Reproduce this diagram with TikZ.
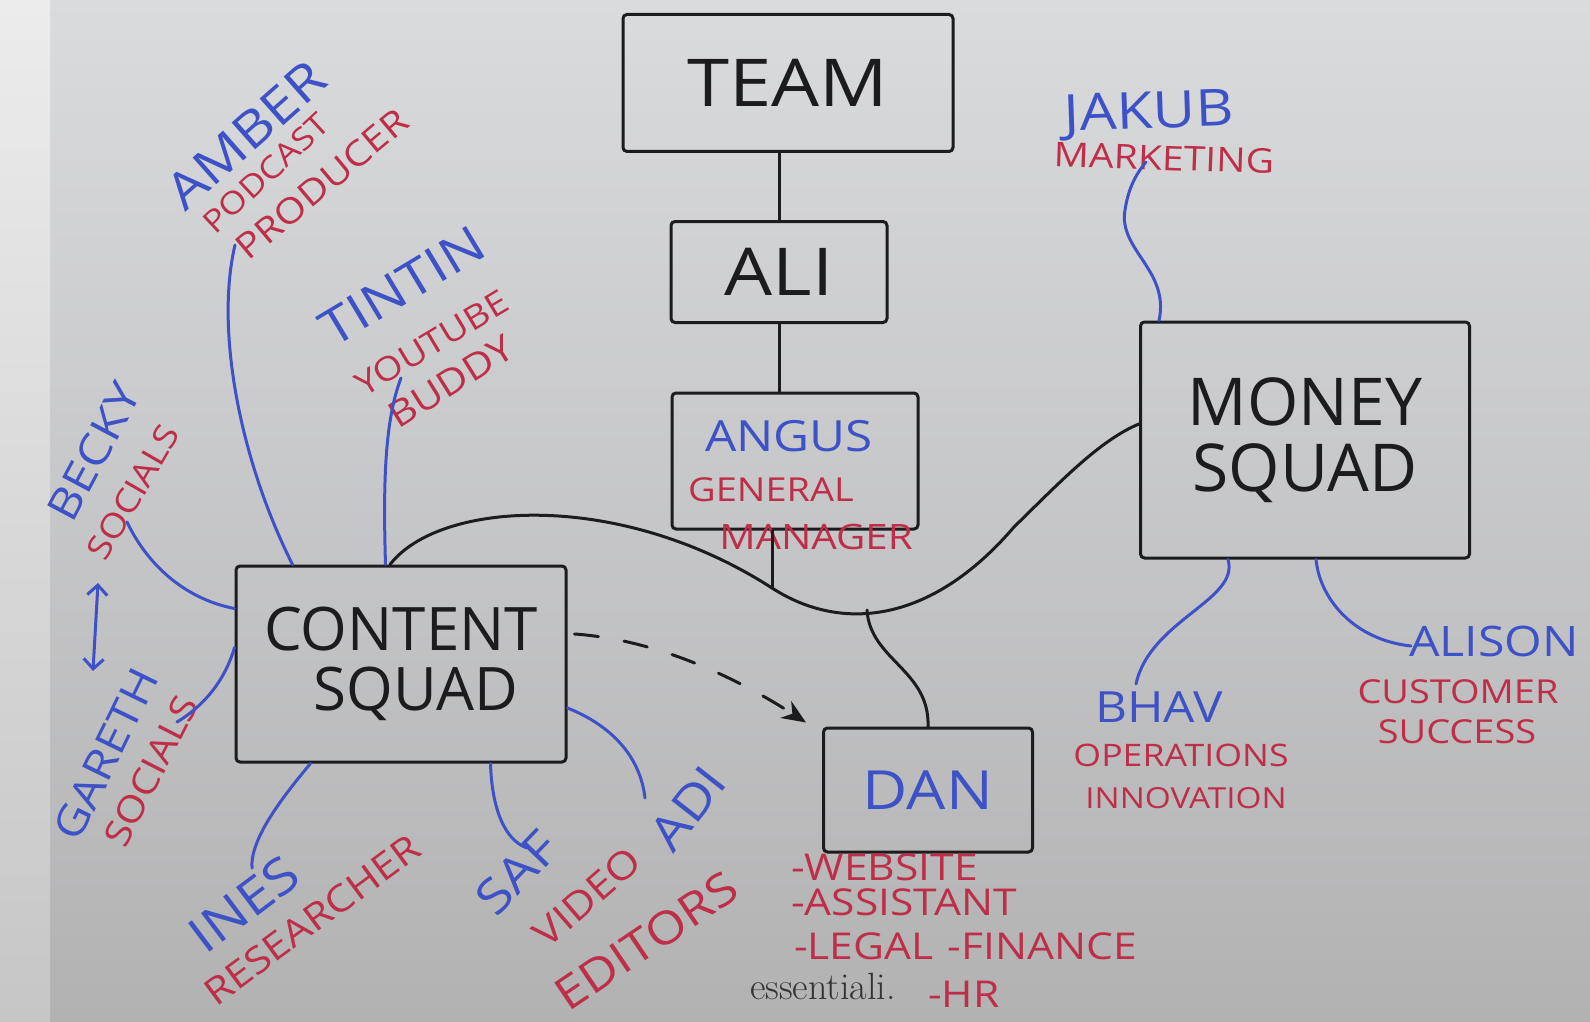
\documentclass[tikz,border=0pt]{standalone}
\usepackage{fontspec}
\newfontfamily\hand{Open Sans}[FakeStretch=1.15]
\newfontfamily\boxfont{Open Sans}
\usetikzlibrary{arrows.meta}

\definecolor{ink}{HTML}{1C1C1E}
\definecolor{penblue}{HTML}{3D52C6}
\definecolor{penred}{HTML}{BF2E48}
\definecolor{boardtop}{HTML}{DADBDD}
\definecolor{boardbot}{HTML}{B2B2B3}
\definecolor{edgetop}{HTML}{ECECEC}
\definecolor{edgebot}{HTML}{C6C6C6}
\definecolor{mark}{HTML}{333333}

\tikzset{
  box/.style={draw=ink, line width=3pt, rounded corners=4pt, inner sep=0pt,
    text=ink, align=center, font=\boxfont\fontsize{#1}{#1}\selectfont},
  who/.style={text=penblue, inner sep=0pt, font=\hand\fontsize{#1}{#1}\selectfont},
  role/.style={text=penred, inner sep=0pt, font=\hand\fontsize{#1}{#1}\selectfont},
  link/.style={draw=penblue, line width=3pt, line cap=round},
  wire/.style={draw=ink, line width=3pt, line cap=round},
}

\begin{document}
\begin{tikzpicture}[x=1pt, y=-1pt]
\useasboundingbox (0,0) rectangle (1590,1022);
% whiteboard
\shade[top color=boardtop, bottom color=boardbot] (0,0) rectangle (1590,1022);
\shade[top color=edgetop, bottom color=edgebot] (0,0) rectangle (50,1022);

% boxes
\node[box=66, minimum width=330pt, minimum height=137pt, font=\hand\fontsize{66}{66}\selectfont] (team) at (788,83) {TEAM};
\node[box=66, minimum width=216pt, minimum height=101pt, font=\hand\fontsize{66}{66}\selectfont] (ali) at (779,272) {ALI};
\node[box=48, minimum width=246pt, minimum height=136pt] (angus) at (795,461) {};
\node[box=60, minimum width=330pt, minimum height=196pt] (content) at (401,664)
  {\fontsize{60}{73}\selectfont CONTENT\\\hspace*{30pt}SQUAD};
\node[box=66, minimum width=329pt, minimum height=236pt] (money) at (1305,440)
  {\fontsize{66}{86}\selectfont MONEY\\SQUAD};
\node[box=54, minimum width=209pt, minimum height=124pt, text=penblue, font=\hand\fontsize{54}{54}\selectfont] (dan) at (928,790) {DAN};

% general manager
\node[who=43] (angusname) at (789,436) {ANGUS};
\node[role=33] (general) at (771,490) {GENERAL};
\node[role=35] (manager) at (816,537) {MANAGER};

% content squad people
\node[who=50, rotate=41.5] (amber) at (246,135) {AMBER};
\node[role=31, rotate=43] (podcast) at (266,173) {PODCAST};
\node[role=35, rotate=40] (producer) at (322,184) {PRODUCER};
\node[who=50, rotate=31] (tintin) at (402,286) {TINTIN};
\node[role=33, rotate=31] (youtube) at (432,343) {YOUTUBE};
\node[role=36, rotate=32] (buddy) at (451,382) {BUDDY};
\node[who=43, rotate=62] (becky) at (94,452) {BECKY};
\node[role=33, rotate=60] (beckyrole) at (133,492) {SOCIALS};
\node[who=42, rotate=64] (gareth) at (106,754) {GARETH};
\node[role=36, rotate=63] (garethrole) at (151,771) {SOCIALS};
\node[who=50, rotate=37] (ines) at (244,904) {INES};
\node[role=37, rotate=36.5] (inesrole) at (312,920) {RESEARCHER};
\node[who=48, rotate=46] (saf) at (517,873) {SAF};
\node[role=38, rotate=41] (video) at (587,897) {VIDEO};
\node[who=48, rotate=52] (adi) at (688,808) {ADI};
\node[role=45, rotate=34] (editors) at (646,941) {EDITORS};

% money squad people
\node[who=51, rotate=2] (jakub) at (1149,115) {JAKUB};
\node[role=34, rotate=-2] (jakubrole) at (1164,158) {MARKETING};
\node[who=43] (bhav) at (1159,707) {BHAV};
\node[role=31] (bhavrole) at (1181,755) {OPERATIONS};
\node[role=29] (bhavrole2) at (1186,798) {INNOVATION};
\node[who=42] (alison) at (1494,641) {ALISON};
\node[role=33] (alisonrole) at (1458,692) {CUSTOMER};
\node[role=33] (alisonrole2) at (1457,732) {SUCCESS};

% dan's jobs
\node[role=37, anchor=west] (website) at (791,867) {-WEBSITE};
\node[role=37, anchor=west] (assistant) at (791,902) {-ASSISTANT};
\node[role=37, anchor=west] (legal) at (794,946) {-LEGAL\hspace{14pt}-FINANCE};
\node[role=37, anchor=west] (hr) at (928,994) {-HR};

\node[text=mark, inner sep=0pt, font=\fontsize{38}{38}\selectfont] (logo) at (823,986) {essentiali.};

% free ends
\coordinate (join) at (772,588);
\coordinate (fork) at (867,610);
\coordinate (amberend) at (235,245);
\coordinate (tintinend) at (401,378);
\coordinate (beckyend) at (127,522);
\coordinate (garethend) at (177,722);
\coordinate (swapa) at (98,583);
\coordinate (swapb) at (93,671);
\coordinate (inesend) at (252,868);
\coordinate (safend) at (527,848);
\coordinate (adiend) at (645,798);
\coordinate (jakubend) at (1146,162);
\coordinate (bhavend) at (1136,684);
\coordinate (alisonend) at (1411,646);

% black lines
\draw[wire] (ali.north) -- (ali.north |- team.south);
\draw[wire] (ali.south) -- (ali.south |- angus.north);
\draw[wire] (join |- angus.south) -- (join);
\draw[wire] ([xshift=-11pt]content.north) .. controls (440,500) and (620,490) .. (join)
  .. controls (840,632) and (930,625) .. (1014,527)
  .. controls (1060,482) and (1100,440) .. ([yshift=16pt]money.west);
\draw[wire] (fork) .. controls (870,660) and (930,670) .. (dan.north);
\draw[wire, dash pattern=on 24pt off 26pt, -{Stealth[length=24pt,width=20pt]}]
  ([xshift=7pt,yshift=30pt]content.east) .. controls (660,640) and (740,680)
  .. ([xshift=-16pt,yshift=4pt]dan.north west);

% blue lines
\draw[link] ([xshift=58pt]content.north west) .. controls (240,460) and (215,330) .. (amberend);
\draw[link] ([xshift=151pt]content.north west) .. controls (383,480) and (385,420) .. (tintinend);
\draw[link] ([yshift=-44pt]content.north west) .. controls (190,600) and (150,570) .. (beckyend);
\draw[link] ([yshift=-83pt]content.north west) .. controls (225,680) and (205,705) .. (garethend);
\draw[link, {Straight Barb[length=10pt,width=20pt]}-{Straight Barb[length=10pt,width=20pt]}] (swapa) -- (swapb);
\draw[link] ([xshift=76pt]content.south west) .. controls (280,800) and (250,840) .. (inesend);
\draw[link] ([xshift=256pt]content.south west) .. controls (492,810) and (505,840) .. (safend);
\draw[link] ([yshift=-44pt]content.east) .. controls (610,725) and (640,755) .. (adiend);
\draw[link] ([xshift=20pt]money.north west) .. controls (1170,270) and (1118,250) .. (1125,210)
  .. controls (1128,190) and (1135,175) .. (jakubend);
\draw[link] ([xshift=89pt]money.south west) .. controls (1240,600) and (1150,620) .. (bhavend);
\draw[link] ([xshift=177pt]money.south west) .. controls (1320,600) and (1355,640) .. (alisonend);
\end{tikzpicture}
\end{document}
